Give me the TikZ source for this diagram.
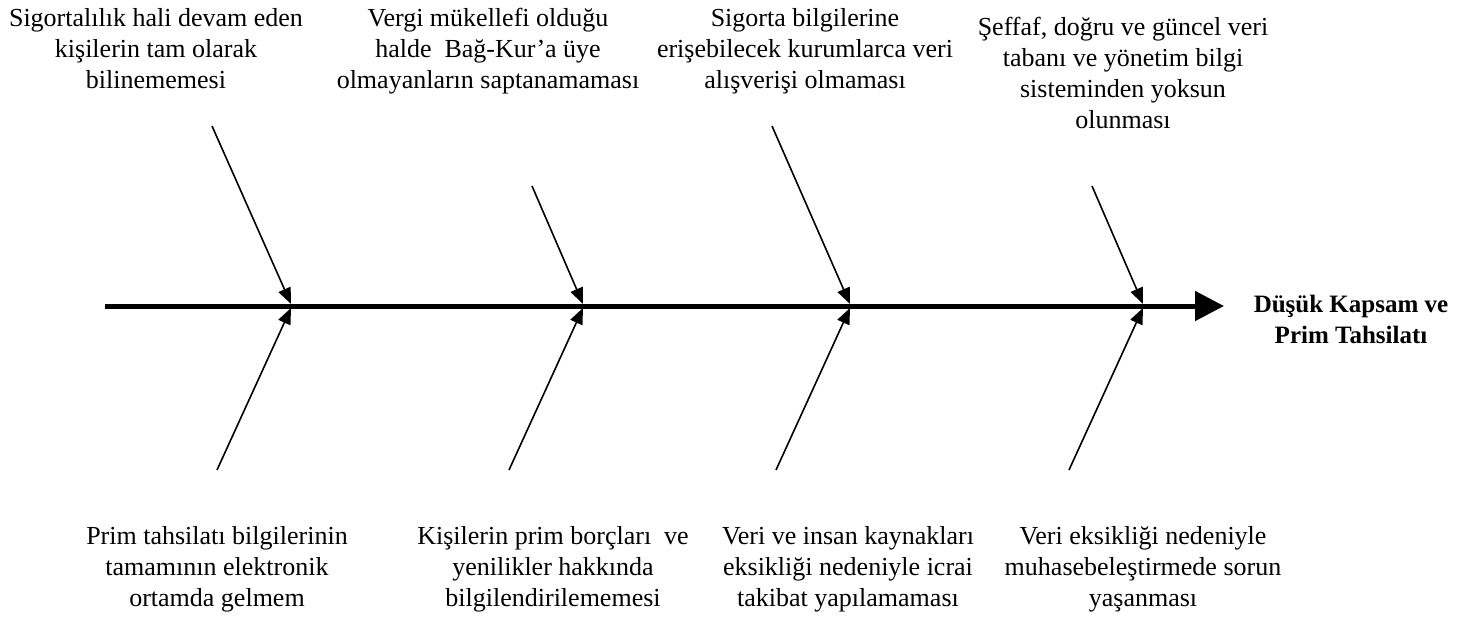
\documentclass[tikz,border=0pt]{standalone}
\usepackage{fontspec}
\setmainfont{Liberation Serif}
\usetikzlibrary{arrows.meta}
\begin{document}
\begin{tikzpicture}[x=1pt,y=-1pt,
  cause/.style={align=center,anchor=base,inner sep=0pt,font=\fontsize{26}{31}\selectfont},
  effect/.style={align=center,anchor=base,inner sep=0pt,font=\fontsize{25}{31}\selectfont\bfseries},
  bone/.style={line width=1.6pt,-{Triangle[length=16pt,width=13pt]}},
  spine/.style={line width=5pt,-{Triangle[length=29pt,width=29pt]}}]
\useasboundingbox (0,0) rectangle (1468,621);
% spine
\coordinate (s0) at (105,306);
\coordinate (s1) at (1224,306);
\draw[spine] (s0) -- (s1);
% junctions
\coordinate (j1t) at (291,304);
\coordinate (j2t) at (583,304);
\coordinate (j3t) at (850,304);
\coordinate (j4t) at (1143,304);
\coordinate (j1b) at (291,308);
\coordinate (j2b) at (583,308);
\coordinate (j3b) at (850,308);
\coordinate (j4b) at (1143,308);
% bone ends
\coordinate (t1) at (212,126);
\coordinate (t2) at (532,186);
\coordinate (t3) at (772,126);
\coordinate (t4) at (1092,186);
\coordinate (b1) at (217,470);
\coordinate (b2) at (509,470);
\coordinate (b3) at (776,470);
\coordinate (b4) at (1069,470);
\draw[bone] (t1) -- (j1t);
\draw[bone] (t2) -- (j2t);
\draw[bone] (t3) -- (j3t);
\draw[bone] (t4) -- (j4t);
\draw[bone] (b1) -- (j1b);
\draw[bone] (b2) -- (j2b);
\draw[bone] (b3) -- (j3b);
\draw[bone] (b4) -- (j4b);
% texts (anchor base = baseline of the last line)
\node[cause] (c1) at (156,88) {Sigortalılık hali devam eden\\kişilerin tam olarak\\bilinememesi};
\node[cause] (c2) at (488,88) {Vergi mükellefi olduğu\\halde\ \ Bağ-Kur’a üye\\olmayanların saptanamaması};
\node[cause] (c3) at (805,88) {Sigorta bilgilerine\\erişebilecek kurumlarca veri\\alışverişi olmaması};
\node[cause] (c4) at (1123,128) {Şeffaf, doğru ve güncel veri\\tabanı ve yönetim bilgi\\sisteminden yoksun\\olunması};
\node[cause] (c5) at (217,606) {Prim tahsilatı bilgilerinin\\tamamının elektronik\\ortamda gelmem};
\node[cause] (c6) at (553,606) {Kişilerin prim borçları\ \ ve\\yenilikler hakkında\\bilgilendirilememesi};
\node[cause] (c7) at (848,606) {Veri ve insan kaynakları\\eksikliği nedeniyle icrai\\takibat yapılamaması};
\node[cause] (c8) at (1143,606) {Veri eksikliği nedeniyle\\muhasebeleştirmede sorun\\yaşanması};
\node[effect] (e) at (1351,343) {Düşük Kapsam ve\\Prim Tahsilatı};
\end{tikzpicture}
\end{document}
